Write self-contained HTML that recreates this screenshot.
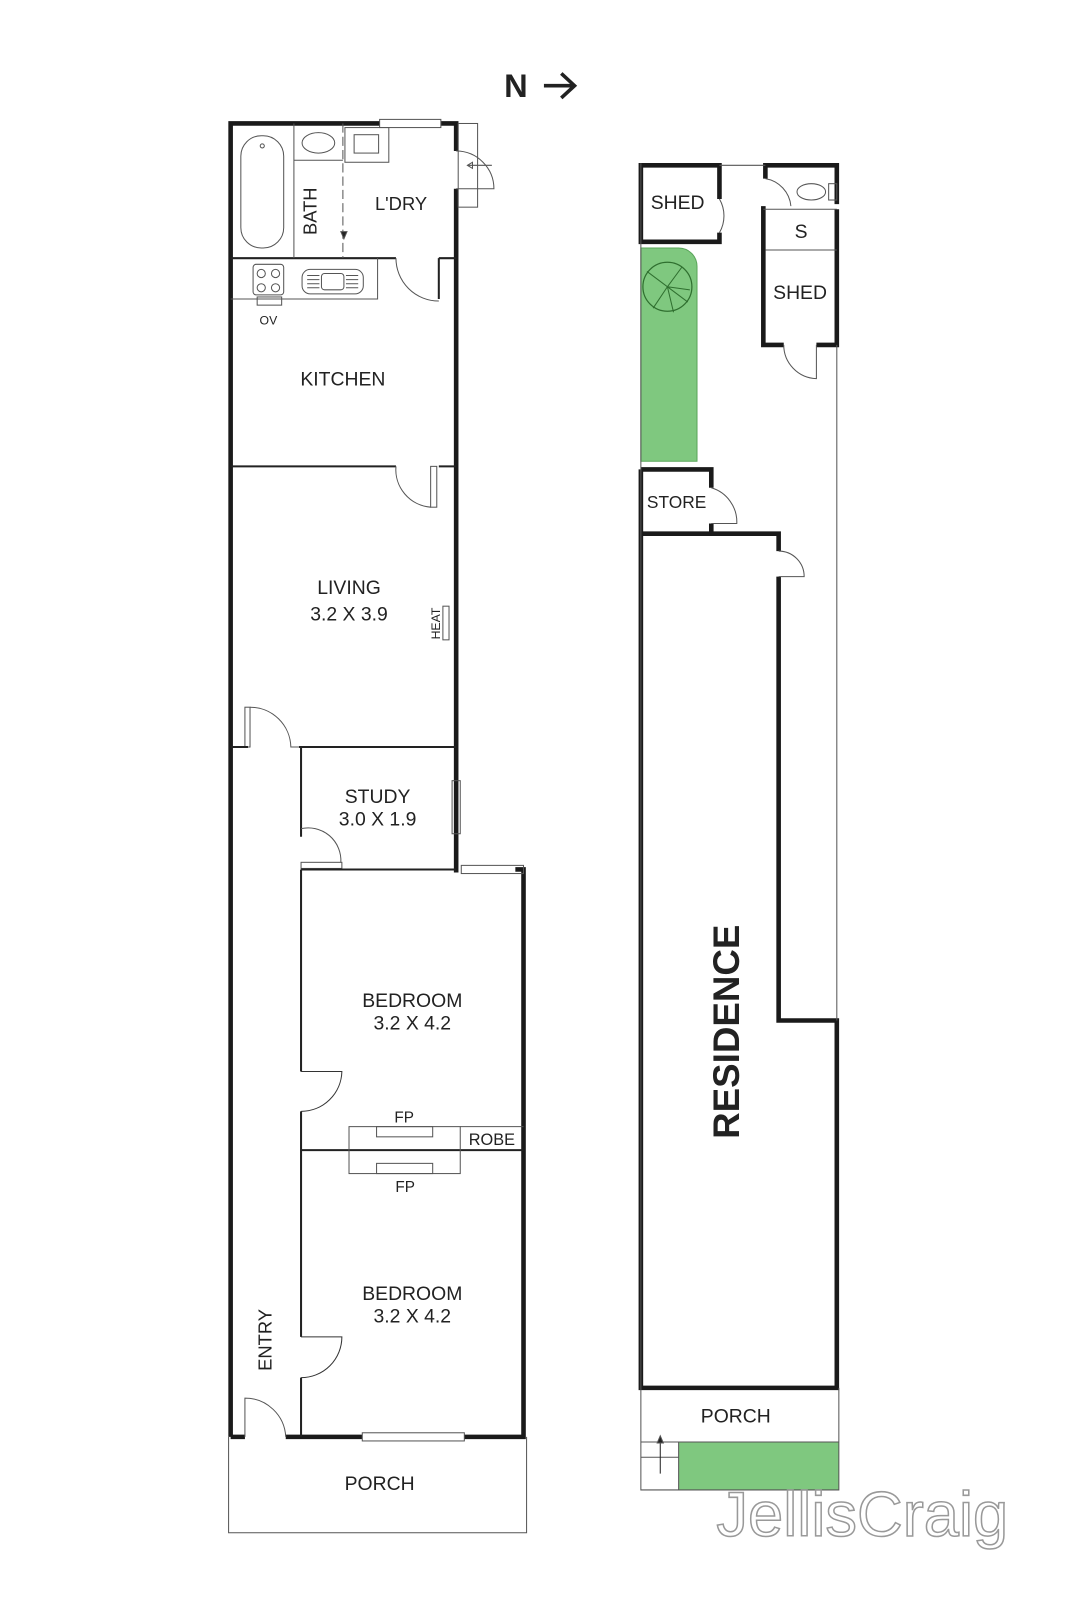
<!DOCTYPE html>
<html><head><meta charset="utf-8"><style>
html,body{margin:0;padding:0;background:#fff;overflow:hidden}
svg{display:block}
text{font-family:"Liberation Sans",sans-serif;fill:#222}
</style></head><body>
<svg width="1067" height="1600" viewBox="0 0 1067 1600" xmlns="http://www.w3.org/2000/svg">
<g transform="scale(1.0205)">
<g fill="none" stroke="#222">
<text x="494" y="95" font-size="32" font-weight="bold" stroke="none">N</text>
<path d="M533 84 H563 M550 72 L563 84 L550 96" stroke-width="3.5"/>

<g stroke-width="4.5" stroke="#1a1a1a">
<path d="M226 1408 V121 H372 M432 121 H447 V148 M447 185 V855"/>
<path d="M226 1408 H240 M280 1408 H355 M455 1408 H513 V852 H505"/>
</g>
<g stroke-width="1" stroke="#555">
<rect x="372" y="117" width="60" height="8"/>
<rect x="355" y="1404" width="100" height="8"/>
<rect x="452" y="848" width="61" height="8"/>
<rect x="443" y="765" width="8" height="52"/>
<rect x="434" y="594" width="6" height="33"/>
<rect x="240" y="693" width="5" height="39"/>
<rect x="422" y="457" width="6" height="40"/>
<rect x="295" y="845" width="40" height="6"/>
</g>
<g stroke-width="2">
<path d="M226 253 H388 M430 253 H447 M430 253 V293"/>
<path d="M226 457 H388 M430 457 H447"/>
<path d="M226 732 H243 M293 732 H447"/>
<path d="M295 732 V820 M295 852 H447 M295 852 V1050 M295 1089 V1310 M295 1350 V1408"/>
<path d="M295 1127 H513"/>
</g>
<g stroke-width="1" stroke="#555">
<rect x="236" y="133" width="42" height="110" rx="20"/>
<circle cx="257" cy="143" r="2"/>
<path d="M288 121 V253 M288 157 H336"/>
<ellipse cx="312" cy="140" rx="16" ry="10"/>
<path d="M336 121 V253" stroke-dasharray="9 4"/>
<path d="M337 234 l-3 -7 h6 z" fill="#222"/>
<rect x="338" y="125" width="43" height="34"/>
<rect x="347" y="132" width="24" height="18"/>
<rect x="449" y="121" width="19" height="82"/>
<path d="M447 148 A37 37 0 0 1 484 185 H447"/>
<path d="M482 162 H458 M458 162 l5 -3 v6 z"/>
<path d="M226 293 H370 V253"/>
<rect x="248" y="259" width="30" height="30" rx="3"/>
<circle cx="256" cy="268" r="4"/><circle cx="270" cy="268" r="4"/><circle cx="256" cy="282" r="4"/><circle cx="270" cy="282" r="4"/>
<rect x="252" y="291" width="24" height="8"/>
<rect x="296" y="264" width="60" height="24" rx="8"/>
<rect x="315" y="268" width="22" height="16" rx="3"/>
<path d="M301 270 h12 M301 274 h12 M301 278 h12 M301 282 h12 M339 270 h12 M339 274 h12 M339 278 h12 M339 282 h12"/>
<path d="M388 253 A42 42 0 0 0 430 295"/>
<path d="M388 457 A37 37 0 0 0 422 497"/>
<path d="M245 693 A40 40 0 0 1 285 732 H293"/>
<path d="M295 812 A32 32 0 0 1 334 845"/>
<path d="M295 1050 H335 A40 40 0 0 1 295 1089" stroke="#333"/>
<path d="M295 1310 H335 A40 40 0 0 1 295 1350" stroke="#333"/>
<path d="M240 1408 V1370 A40 40 0 0 1 280 1408"/>
<rect x="342" y="1104" width="109" height="46"/>
<rect x="369" y="1104" width="55" height="10"/>
<rect x="369" y="1140" width="55" height="10"/>
<path d="M451 1104 H513"/>
<path d="M224 1408 V1502 H516 V1408"/>
</g>

<path d="M628 243 H665 A18 18 0 0 1 683 261 V452 H628 Z" fill="#7fc87f" stroke="#5aa55a" stroke-width="1"/>
<circle cx="654" cy="281" r="24" stroke="#2f6f2f" stroke-width="1.2"/>
<path d="M634 266 L674 296 M654 281 L668 262 M654 281 L660 306 M654 281 L640 302 M654 281 L676 284" stroke="#2f6f2f" stroke-width="1"/>
<rect x="665" y="1413" width="157" height="47" fill="#7fc87f" stroke="none"/>
<g stroke-width="4.5" stroke="#1a1a1a">
<path d="M705 195 V162 H628 V237 H705 V228"/>
<path d="M628 460 H697 V478 M697 513 V523 M628 460 V1360 H820 V1000 H763 V565 M763 540 V523 H628"/>
<path d="M750 175 V162 H820 V200 M748 202 V338 H768 M800 338 H820 V205"/>
</g>
<g stroke-width="1" stroke="#555">
<path d="M705 162 H750 M705 195 A33 33 0 0 1 705 228"/>
<path d="M750 175 A30 30 0 0 1 775 202"/>
<path d="M748 205 H820 M750 245 H820"/>
<ellipse cx="795" cy="188" rx="14" ry="8"/>
<rect x="812" y="180" width="8" height="16"/>
<path d="M768 338 A33 33 0 0 0 800 371 V338"/>
<path d="M697 478 A35 35 0 0 1 722 513 H697"/>
<path d="M763 540 A25 25 0 0 1 788 565 H763"/>
<path d="M628 160 V1460 H822 V1360 M820 338 V1000"/>
<path d="M628 1413 H822 M628 1428 H665 M665 1413 V1460"/>
<path d="M647 1444 V1412" stroke="#222"/>
<path d="M647 1407 l-3 7 h6 z" fill="#222"/>
</g>
</g>

<g stroke="none">
<text x="310" y="207" font-size="18" transform="rotate(-90 310 207)" text-anchor="middle">BATH</text>
<text x="393" y="206" font-size="18" text-anchor="middle">L'DRY</text>
<text x="263" y="318" font-size="12" text-anchor="middle">OV</text>
<text x="336" y="378" font-size="19" text-anchor="middle">KITCHEN</text>
<text x="342" y="582" font-size="19" text-anchor="middle">LIVING</text>
<text x="342" y="608" font-size="19" text-anchor="middle">3.2 X 3.9</text>
<text x="431" y="611" font-size="12" transform="rotate(-90 431 611)" text-anchor="middle">HEAT</text>
<text x="370" y="787" font-size="19" text-anchor="middle">STUDY</text>
<text x="370" y="809" font-size="19" text-anchor="middle">3.0 X 1.9</text>
<text x="404" y="987" font-size="19" text-anchor="middle">BEDROOM</text>
<text x="404" y="1009" font-size="19" text-anchor="middle">3.2 X 4.2</text>
<text x="396" y="1100" font-size="15" text-anchor="middle">FP</text>
<text x="482" y="1122" font-size="16" text-anchor="middle">ROBE</text>
<text x="397" y="1168" font-size="15" text-anchor="middle">FP</text>
<text x="404" y="1274" font-size="19" text-anchor="middle">BEDROOM</text>
<text x="404" y="1296" font-size="19" text-anchor="middle">3.2 X 4.2</text>
<text x="266" y="1313" font-size="18" transform="rotate(-90 266 1313)" text-anchor="middle">ENTRY</text>
<text x="372" y="1460" font-size="19" text-anchor="middle">PORCH</text>
<text x="664" y="205" font-size="19" text-anchor="middle">SHED</text>
<text x="785" y="233" font-size="19" text-anchor="middle">S</text>
<text x="784" y="293" font-size="19" text-anchor="middle">SHED</text>
<text x="663" y="498" font-size="17" text-anchor="middle">STORE</text>
<text x="724" y="1011" font-size="36" font-weight="bold" transform="rotate(-90 724 1011)" text-anchor="middle">RESIDENCE</text>
<text x="721" y="1394" font-size="19" text-anchor="middle">PORCH</text>
<text x="845" y="1505" font-size="62" text-anchor="middle" style="fill:#fff;stroke:#999;stroke-width:1.5">JellisCraig</text>
</g>
</g>
</svg>
</body></html>
